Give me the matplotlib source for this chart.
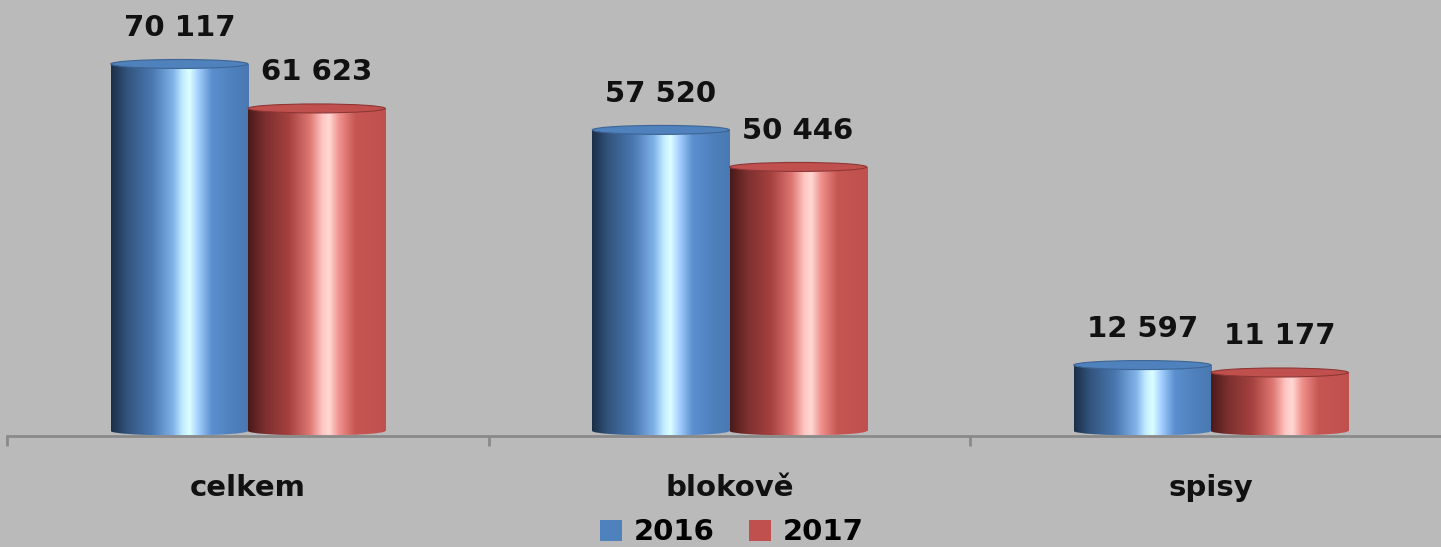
import numpy as np
import matplotlib
matplotlib.use("Agg")
import matplotlib.pyplot as plt
from matplotlib.colors import LinearSegmentedColormap
from matplotlib.patches import Rectangle, Ellipse, Patch

categories = ["celkem", "blokově", "spisy"]
years = ["2016", "2017"]
values_2016 = [70117, 57520, 12597]
values_2017 = [61623, 50446, 11177]

bg = "#bababa"
base_colors = ["#4f81bd", "#c0504d"]

blue_cmap = LinearSegmentedColormap.from_list("blue_cyl", [
    (0.0, "#1c2f48"), (0.12, "#33557f"), (0.3, "#4a78b0"), (0.45, "#80b2e8"),
    (0.52, "#c2ecff"), (0.57, "#dcffff"), (0.63, "#a6d2ff"), (0.73, "#5c8fcf"),
    (0.87, "#4f81bd"), (1.0, "#4a79b2")])
red_cmap = LinearSegmentedColormap.from_list("red_cyl", [
    (0.0, "#4a1a1a"), (0.12, "#7a2f2e"), (0.3, "#a6423f"), (0.45, "#df7874"),
    (0.54, "#ffc6c2"), (0.59, "#ffd8d4"), (0.66, "#f0928e"), (0.78, "#c65652"),
    (1.0, "#c0504d")])
cmaps = [blue_cmap, red_cmap]

fig = plt.figure(figsize=(14.41, 5.47), dpi=100, facecolor=bg)
# axes runs a little past the right edge, like the original
ax = fig.add_axes([7.25 / 1441, 111 / 547, 1444.5 / 1441, 436 / 547])
ax.set_facecolor(bg)

ymin, ymax = -955, 82340
px_per_unit = 436 / (ymax - ymin)
cap_h = 9 / px_per_unit
bw = 0.285
offsets = [-0.1425, 0.1425]
grad = np.linspace(0, 1, 256).reshape(1, -1)

x = np.arange(len(categories))
for si, vals in enumerate([values_2016, values_2017]):
    cmap = cmaps[si]
    for i, v in enumerate(vals):
        xc = x[i] + offsets[si]
        x0, x1 = xc - bw / 2, xc + bw / 2
        # body
        body = Rectangle((x0, 0), bw, v, facecolor="none", edgecolor="none")
        ax.add_patch(body)
        im = ax.imshow(grad, cmap=cmap, aspect="auto", extent=(x0, x1, -cap_h, v),
                       interpolation="bicubic", zorder=2)
        im.set_clip_path(body)
        # rounded bottom
        bottom = Ellipse((xc, 0), bw, cap_h, facecolor="none", edgecolor="none")
        ax.add_patch(bottom)
        im2 = ax.imshow(grad, cmap=cmap, aspect="auto", extent=(x0, x1, -cap_h, v),
                        interpolation="bicubic", zorder=2)
        im2.set_clip_path(bottom)
        # top cap
        top = Ellipse((xc, v), bw, cap_h, facecolor=base_colors[si],
                      edgecolor=cmap(0.2), linewidth=0.8, zorder=3)
        ax.add_patch(top)
        ax.annotate(f"{v:,}".replace(",", " "), (xc, v), xytext=(0, 16),
                    textcoords="offset points", ha="center", va="bottom",
                    fontsize=21, fontweight="bold", color="#111111")

ax.set_xlim(-0.5, 2.5)
ax.set_ylim(ymin, ymax)
ax.set_yticks([])
for s in ["top", "left", "right"]:
    ax.spines[s].set_visible(False)
ax.spines["bottom"].set_color("#8a8a8a")
ax.spines["bottom"].set_linewidth(2)
ax.set_xticks([-0.5, 0.5, 1.5, 2.5])
ax.set_xticklabels([])
ax.tick_params(axis="x", which="major", length=7, width=2, color="#8a8a8a")
ax.set_xticks(x, minor=True)
ax.set_xticklabels(categories, minor=True, fontsize=21, fontweight="bold", color="#111111")
ax.tick_params(axis="x", which="minor", length=0, pad=27)

handles = [Patch(facecolor=c, edgecolor="none") for c in base_colors]
fig.legend(handles, years, loc="lower center", bbox_to_anchor=(0.508, -0.047), ncol=2,
           frameon=False, prop={"weight": "bold", "size": 21},
           handlelength=0.75, handleheight=0.75, handletextpad=0.4, columnspacing=1.2)

fig.savefig("out.png", dpi=100, facecolor=bg)
